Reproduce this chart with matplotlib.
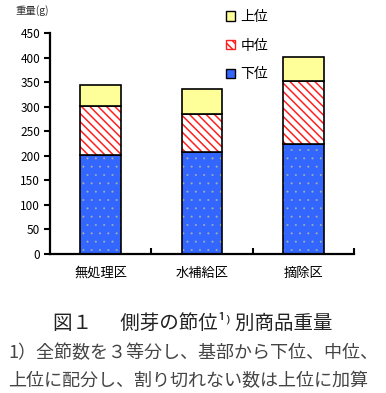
import matplotlib
matplotlib.use("Agg")
import matplotlib.pyplot as plt
from matplotlib.patches import Patch

plt.rcParams['font.family'] = ['Noto Sans CJK JP', 'DejaVu Sans']

categories = ['無処理区', '水補給区', '摘除区']
lower = [202, 207, 224]
middle = [99, 78, 128]
upper = [43, 51, 49]
series_labels = ['上位', '中位', '下位']
yticks = [0, 50, 100, 150, 200, 250, 300, 350, 400, 450]

fig = plt.figure(figsize=(3.86, 3.93), dpi=100)
ax = fig.add_axes([50/386, 1-254/393, 304/386, 221/393])

x = list(range(len(categories)))
w = 0.4
blue = '#3366FF'
yellow = '#FFFF99'
red = '#FF2020'

bottom_mid = lower
bottom_up = [a + b for a, b in zip(lower, middle)]

# lower: blue with sparse faint yellow dots
plt.rcParams['hatch.linewidth'] = 0.2
ax.bar(x, lower, w, color=blue, edgecolor='#A8B0A0', hatch='..', linewidth=0)
ax.bar(x, lower, w, fill=False, edgecolor='black', linewidth=1.2)
# middle: red diagonal hatch
plt.rcParams['hatch.linewidth'] = 1.1
ax.bar(x, middle, w, bottom=bottom_mid, color='white', edgecolor=red, hatch='\\\\\\\\', linewidth=0)
ax.bar(x, middle, w, bottom=bottom_mid, fill=False, edgecolor='black', linewidth=1.2)
# upper: yellow
ax.bar(x, upper, w, bottom=bottom_up, color=yellow, edgecolor='black', linewidth=1.2)

ax.set_xlim(-0.5, 2.5)
ax.set_ylim(0, 450)
ax.set_yticks(yticks)
ax.set_yticklabels([str(v) for v in yticks], fontsize=8.5)
ax.set_xticks(x)
ax.set_xticklabels(categories, fontsize=9.5)
ax.tick_params(axis='x', length=0, pad=9)
ax.set_xticks([0.5, 1.5, 2.5], minor=True)
ax.tick_params(axis='x', which='minor', direction='in', length=4, width=1.5)
ax.tick_params(axis='y', direction='out', length=4, width=1.5, pad=3)
for s in ['top', 'right']:
    ax.spines[s].set_visible(False)
for s in ['left', 'bottom']:
    ax.spines[s].set_linewidth(1.6)

fig.text(15/386, 1-11/393, '重量(g)', fontsize=7.5, va='center', ha='left', color='#333333')

handles = [
    Patch(facecolor=yellow, edgecolor='black', linewidth=1),
    Patch(facecolor='white', edgecolor=red, hatch='\\\\\\\\', linewidth=1),
    Patch(facecolor=blue, edgecolor='black', linewidth=1),
]
leg = fig.legend(handles, series_labels, loc='upper left', bbox_to_anchor=(226/386, 1-10/393),
                 frameon=False, fontsize=10, handlelength=0.65, handleheight=0.65,
                 handletextpad=0.4, labelspacing=1.05, borderpad=0, borderaxespad=0)

fig.text(0.5, 1-323/393, '図１　  側芽の節位¹⁾ 別商品重量', fontsize=14, ha='center', va='center', color='#222222')
fig.text(8/386, 1-353/393, '1）全節数を３等分し、基部から下位、中位、', fontsize=13, ha='left', va='center', color='#444444')
fig.text(8/386, 1-381/393, '上位に配分し、割り切れない数は上位に加算', fontsize=13, ha='left', va='center', color='#444444')

fig.savefig('out.png', dpi=100)
